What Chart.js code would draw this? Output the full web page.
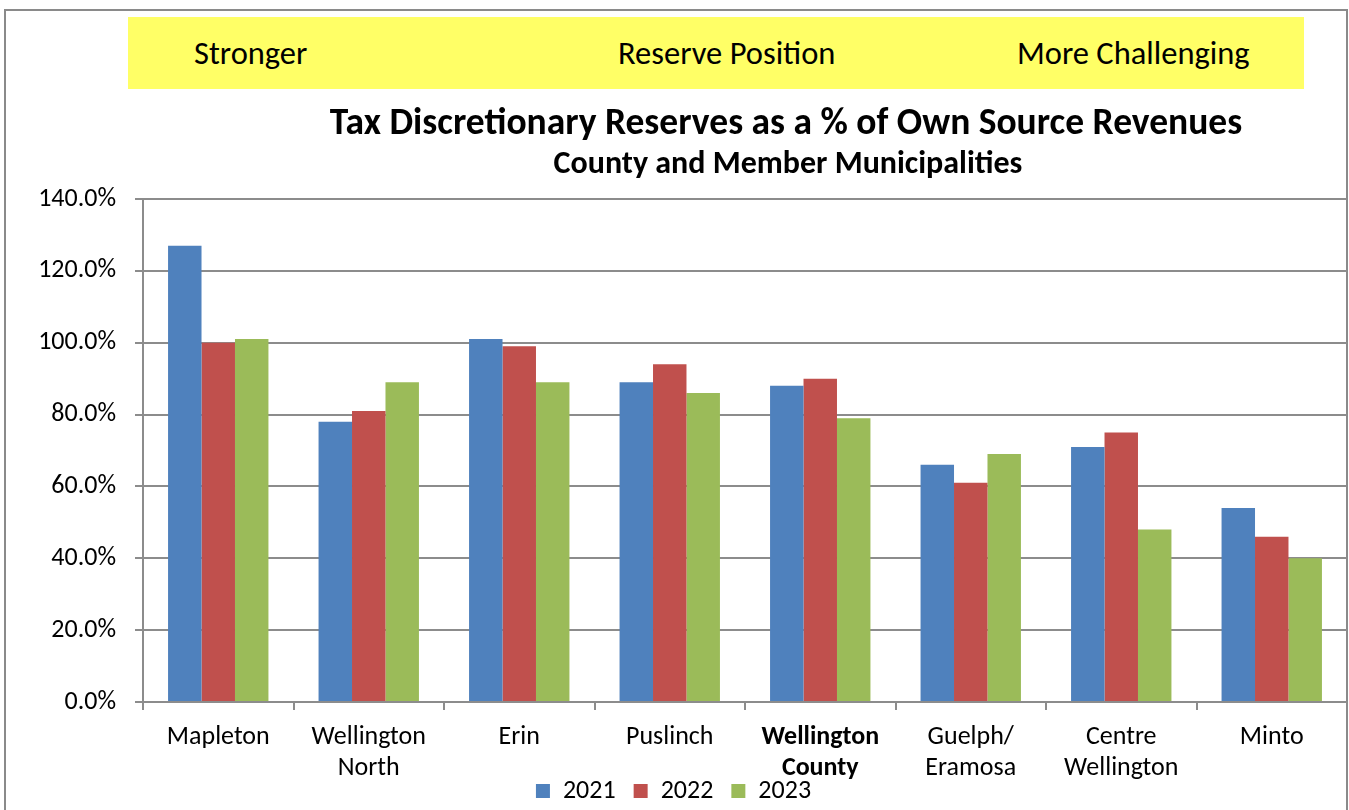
<!DOCTYPE html>
<html>
<head>
<meta charset="utf-8">
<script src="https://cdn.jsdelivr.net/npm/chart.js@4.4.1/dist/chart.umd.min.js"></script>
<style>
  html, body { margin: 0; height: 810px; overflow: hidden; background: #fff; font-family: Carlito, Calibri, Lato, sans-serif; }
  #frame { position: absolute; left: 4px; top: 9px; width: 1344px; height: 900px; border: 2px solid #8a8a8a; box-sizing: border-box; }
  #band { position: absolute; left: 128px; top: 17px; width: 1176px; height: 72px; background: #ffff66; }
  .band-label { position: absolute; top: 33px; font-size: 32.5px; color: #000; line-height: 40px; }
  #wrap { position: absolute; left: 0; top: 0; width: 1349px; height: 810px; }
</style>
</head>
<body>
<div id="frame"></div>
<div id="band"></div>
<div class="band-label" style="left:194px">Stronger</div>
<div class="band-label" style="left:618px">Reserve Position</div>
<div class="band-label" style="left:1017px">More Challenging</div>
<div id="wrap"><canvas id="chart" width="1349" height="810"></canvas></div>
<script>
  var categories = [
    'Mapleton', ['Wellington', 'North'], 'Erin', 'Puslinch',
    ['Wellington', 'County'], ['Guelph/', 'Eramosa'], ['Centre', 'Wellington'], 'Minto'
  ];
  var years = ['2021', '2022', '2023'];
  var values2021 = [127, 78, 101, 89, 88, 66, 71, 54];
  var values2022 = [100, 81, 99, 94, 90, 61, 75, 46];
  var values2023 = [101, 89, 89, 86, 79, 69, 48, 40];
  var yTicks = [0, 20, 40, 60, 80, 100, 120, 140];

  var titleText = 'Tax Discretionary Reserves as a % of Own Source Revenues';
  var subtitleText = 'County and Member Municipalities';
  var colors = ['#4f81bd', '#c0504d', '#9bbb59'];
  var gridColor = '#8c8c8c';
  var fontFamily = 'Carlito, Calibri, Lato, sans-serif';

  // headings sit off-centre like the original, so a small plugin draws them
  var headings = {
    id: 'headings',
    beforeDraw: function (chart) {
      // keep two-line category labels from being cut at the axis box
      chart.scales.x._computeLabelArea = function () { return null; };
    },
    afterDraw: function (chart) {
      var ctx = chart.ctx;
      ctx.save();
      ctx.fillStyle = '#000';
      ctx.textAlign = 'center';
      ctx.textBaseline = 'middle';
      ctx.font = 'bold 37.5px ' + fontFamily;
      ctx.fillText(titleText, 786, 125);
      ctx.font = 'bold 32px ' + fontFamily;
      ctx.fillText(subtitleText, 788, 165);
      ctx.restore();
    }
  };

  var seriesValues = [values2021, values2022, values2023];
  var datasets = years.map(function (y, i) {
    return {
      label: y,
      data: seriesValues[i],
      backgroundColor: colors[i],
      borderWidth: 0,
      categoryPercentage: 0.667,
      barPercentage: 1.0
    };
  });

  var ctx = document.getElementById('chart').getContext('2d');
  window.myBar = new Chart(ctx, {
    type: 'bar',
    data: { labels: categories, datasets: datasets },
    plugins: [headings],
    options: {
      responsive: false,
      animation: false,
      layout: { padding: { top: 199, left: 0, right: 2, bottom: -4 } },
      plugins: {
        tooltip: { enabled: false },
        legend: {
          position: 'bottom',
          labels: {
            boxWidth: 14, boxHeight: 14, padding: 18, color: '#000',
            font: { family: fontFamily, size: 26 }
          }
        }
      },
      scales: {
        x: {
          grid: { drawOnChartArea: false, drawTicks: true, tickLength: 8, color: gridColor, lineWidth: 2 },
          border: { color: gridColor, width: 2 },
          ticks: {
            color: '#000', padding: 12, maxRotation: 0, autoSkip: false,
            font: function (c) {
              return { family: fontFamily, size: 26, lineHeight: 1.19, weight: c.index === 4 ? 'bold' : 'normal' };
            }
          },
          afterFit: function (scale) { scale.height = 58; }
        },
        y: {
          min: 0, max: 140,
          afterBuildTicks: function (scale) {
            scale.ticks = yTicks.map(function (v) { return { value: v }; });
          },
          grid: { color: gridColor, lineWidth: 2, tickLength: 8 },
          border: { color: gridColor, width: 2 },
          ticks: {
            color: '#000', padding: 19,
            font: { family: fontFamily, size: 26 },
            callback: function (v) { return v.toFixed(1) + '%'; }
          },
          afterFit: function (scale) { scale.width = 143; }
        }
      }
    }
  });
</script>
</body>
</html>
